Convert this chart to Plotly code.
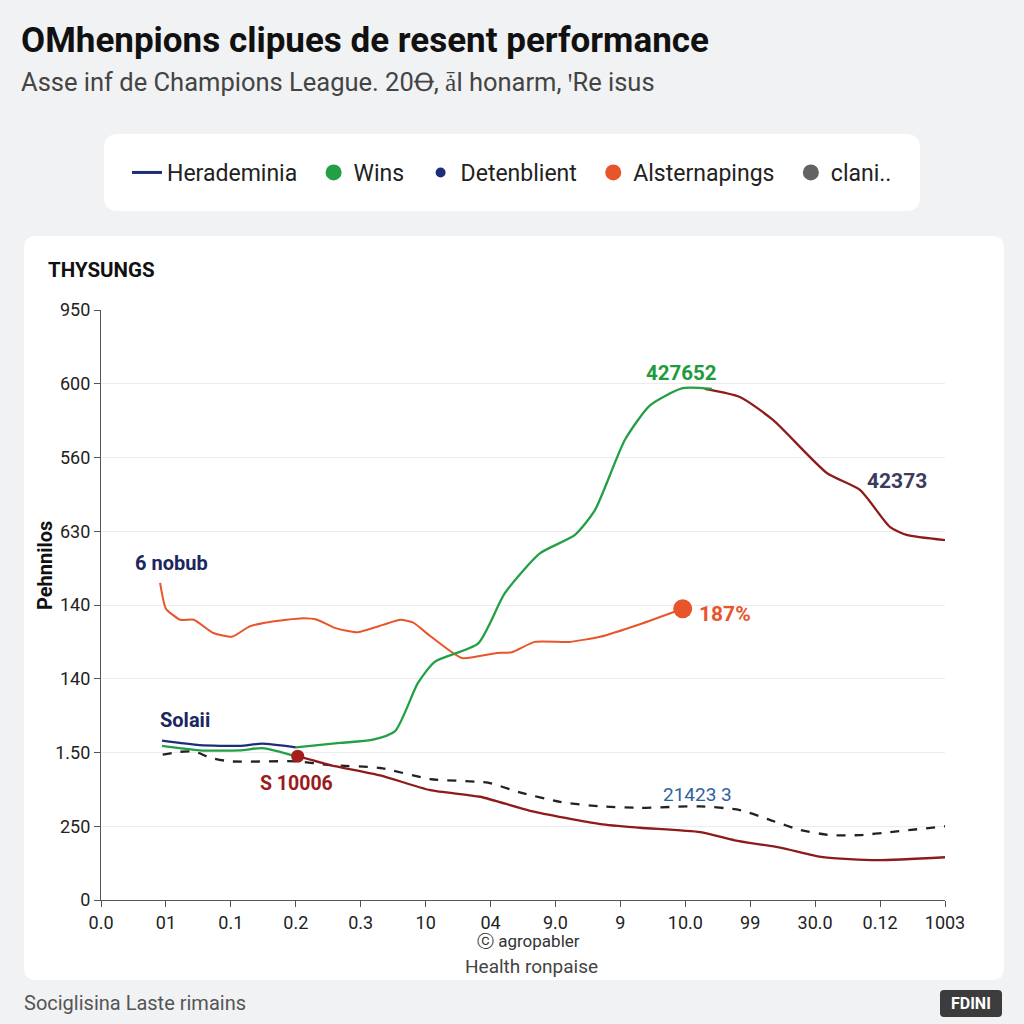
import plotly.graph_objects as go

# ---------------- data ----------------
x_tick_labels = ["0.0", "01", "0.1", "0.2", "0.3", "10", "04", "9.0", "9", "10.0", "99", "30.0", "0.12", "1003"]
y_tick_labels = ["0", "250", "1.50", "140", "140", "630", "560", "600", "950"]

navy_x = [0.94, 1.52, 2.14, 2.48, 3.00]
navy_y = [2.16, 2.10, 2.09, 2.12, 2.07]

green_low_x = [0.94, 1.52, 2.14, 2.48, 2.76, 3.03]
green_low_y = [2.09, 2.03, 2.03, 2.06, 2.01, 1.94]

wins_x = [3.00, 3.68, 4.17, 4.53, 4.88, 5.14, 5.81, 6.22, 6.76, 7.30, 7.61, 8.07, 8.46, 8.96, 9.41]
wins_y = [2.07, 2.13, 2.17, 2.29, 2.94, 3.23, 3.48, 4.16, 4.70, 4.95, 5.29, 6.24, 6.71, 6.94, 6.93]

red_up_x = [9.30, 9.84, 10.35, 11.18, 11.69, 12.15, 12.41, 13.0]
red_up_y = [6.93, 6.82, 6.51, 5.79, 5.56, 5.06, 4.95, 4.88]

red_low_x = [3.03, 3.53, 4.30, 5.07, 5.84, 6.61, 7.69, 8.30, 9.23, 9.76, 10.46, 11.12, 11.95, 13.0]
red_low_y = [1.95, 1.83, 1.69, 1.49, 1.40, 1.21, 1.03, 0.98, 0.92, 0.81, 0.71, 0.58, 0.54, 0.58]

dash_x = [0.95, 1.22, 1.45, 1.68, 1.99, 3.00, 3.53, 4.30, 5.07, 5.96, 6.45, 7.07, 7.69, 8.30, 9.23, 9.84, 10.32, 10.77, 11.23, 11.69, 12.15, 13.0]
dash_y = [1.97, 2.01, 2.01, 1.93, 1.88, 1.88, 1.83, 1.79, 1.64, 1.59, 1.46, 1.33, 1.27, 1.25, 1.27, 1.22, 1.08, 0.95, 0.88, 0.88, 0.92, 1.00]

orange_x = [0.91, 1.00, 1.22, 1.43, 1.73, 2.02, 2.29, 2.60, 3.11, 3.33, 3.60, 3.94, 4.34, 4.61, 4.81, 5.07, 5.56, 6.10, 6.33, 6.68, 7.22, 7.69, 8.30, 8.96]
orange_y = [4.30, 3.95, 3.80, 3.80, 3.62, 3.57, 3.71, 3.77, 3.82, 3.80, 3.69, 3.63, 3.73, 3.80, 3.76, 3.58, 3.28, 3.35, 3.36, 3.50, 3.50, 3.57, 3.74, 3.95]

red_point_x = [3.03]
red_point_y = [1.95]
orange_point_x = [8.96]
orange_point_y = [3.95]

legend_names = ["Herademinia", "Wins", "Detenblient", "Alsternapings", "clani.."]

# ---------------- styling ----------------
NAVY = "#1e2d78"
GREEN = "#23a046"
ORANGE = "#e8552a"
DRED = "#8e1b1b"
BG = "#f1f2f4"
FONT = "Roboto"
PAD = "\u00a0\u00a0"

# plot area in pixels
L, R, T, B = 101, 945, 310, 900
W_, H_ = R - L, B - T


def px(xp):
    return (xp - L) / W_


def py(yp):
    return (B - yp) / H_


def rrect(x0, y0, x1, y1, r):
    rx, ry = r / W_, r / H_
    X0, X1 = px(x0), px(x1)
    Y0, Y1 = py(y0), py(y1)  # Y0 is top (higher value)
    return (f"M {X0+rx},{Y0} L {X1-rx},{Y0} Q {X1},{Y0} {X1},{Y0-ry} "
            f"L {X1},{Y1+ry} Q {X1},{Y1} {X1-rx},{Y1} L {X0+rx},{Y1} "
            f"Q {X0},{Y1} {X0},{Y1+ry} L {X0},{Y0-ry} Q {X0},{Y0} {X0+rx},{Y0} Z")


fig = go.Figure()

line_kw = dict(mode="lines", showlegend=False, hoverinfo="skip")
fig.add_trace(go.Scatter(x=dash_x, y=dash_y, line=dict(color="#222222", width=2.3, dash="dash", shape="spline", smoothing=0.6), **line_kw))
fig.add_trace(go.Scatter(x=orange_x, y=orange_y, line=dict(color=ORANGE, width=2, shape="spline", smoothing=0.5), **line_kw))
fig.add_trace(go.Scatter(x=red_low_x, y=red_low_y, line=dict(color=DRED, width=2.3, shape="spline", smoothing=0.6), **line_kw))
fig.add_trace(go.Scatter(x=red_up_x, y=red_up_y, line=dict(color=DRED, width=2.3, shape="spline", smoothing=0.6), **line_kw))
fig.add_trace(go.Scatter(x=green_low_x, y=green_low_y, line=dict(color=GREEN, width=2.3, shape="spline", smoothing=0.6), **line_kw))
fig.add_trace(go.Scatter(x=wins_x, y=wins_y, line=dict(color=GREEN, width=2.3, shape="spline", smoothing=0.6), **line_kw))
fig.add_trace(go.Scatter(x=navy_x, y=navy_y, line=dict(color=NAVY, width=2.3, shape="spline", smoothing=0.6), **line_kw))
fig.add_trace(go.Scatter(x=red_point_x, y=red_point_y, mode="markers", marker=dict(color="#a51d1d", size=13), showlegend=False, hoverinfo="skip"))
fig.add_trace(go.Scatter(x=orange_point_x, y=orange_point_y, mode="markers", marker=dict(color=ORANGE, size=19), showlegend=False, hoverinfo="skip"))

# legend entries
fig.add_trace(go.Scatter(x=[None], y=[None], mode="lines", line=dict(color=NAVY, width=3), name=legend_names[0] + PAD))
fig.add_trace(go.Scatter(x=[None], y=[None], mode="markers", marker=dict(color=GREEN, size=19), name=legend_names[1] + PAD))
fig.add_trace(go.Scatter(x=[None], y=[None], mode="markers", marker=dict(color=NAVY, size=10), name=legend_names[2] + PAD))
fig.add_trace(go.Scatter(x=[None], y=[None], mode="markers", marker=dict(color=ORANGE, size=19), name=legend_names[3] + PAD))
fig.add_trace(go.Scatter(x=[None], y=[None], mode="markers", marker=dict(color="#636363", size=19), name=legend_names[4]))

shapes = [
    dict(type="path", xref="paper", yref="paper", path=rrect(24, 236, 1004, 980, 12),
         fillcolor="white", line=dict(width=0), layer="below"),
    dict(type="path", xref="paper", yref="paper", path=rrect(104, 134, 920, 211, 14),
         fillcolor="white", line=dict(width=0), layer="below"),
    dict(type="path", xref="paper", yref="paper", path=rrect(940, 990, 1002, 1017, 4),
         fillcolor="#3c3c3c", line=dict(width=0), layer="above"),
]


def ann(text, xp, yp, size, color, bold=False, xanchor="center", angle=0):
    return dict(text=f"<b>{text}</b>" if bold else text, x=px(xp), y=py(yp), xref="paper", yref="paper",
                showarrow=False, xanchor=xanchor, yanchor="middle", textangle=angle,
                font=dict(family=FONT, size=size, color=color))


annotations = [
    ann("OMhenpions clipues de resent performance", 19, 40, 35, "#111111", bold=True, xanchor="left"),
    ann("Asse inf de Champions League. 20Ꝋ, ǡl honarm, ꞌRe isus", 19, 82, 25.5, "#444444", xanchor="left"),
    ann("THYSUNGS", 46, 270, 20.5, "#111111", bold=True, xanchor="left"),
    ann("Pehnnilos", 45, 565, 20, "#111111", bold=True, angle=-90),
    ann("427652", 681, 373, 20.5, "#1f9a3e", bold=True),
    ann("42373", 897, 481, 21, "#3b3b5e", bold=True),
    ann("6 nobub", 171, 563, 20, "#1b2660", bold=True),
    ann("187%", 725, 614, 21, ORANGE, bold=True),
    ann("Solaii", 185, 720, 20, "#1b2660", bold=True),
    ann("S 10006", 296, 783, 19.5, "#9b1c1c", bold=True),
    ann("21423 3", 697, 794, 19, "#2f5f9e"),
    ann("ⓒ agropabler", 528, 941, 17, "#333333"),
    ann("Health ronpaise", 531, 966, 19, "#444444"),
    ann("Sociglisina Laste rimains", 22, 1003, 20, "#555555", xanchor="left"),
    ann("FDINI", 971, 1003, 16, "white", bold=True),
]

fig.update_layout(
    width=1024, height=1024,
    margin=dict(l=L, r=1024 - R, t=T, b=1024 - B, autoexpand=False),
    paper_bgcolor=BG, plot_bgcolor="rgba(0,0,0,0)",
    font=dict(family=FONT, color="#222222"),
    shapes=shapes, annotations=annotations,
    showlegend=True,
    legend=dict(orientation="h", xref="container", yref="container", x=127 / 1024, y=1 - 151 / 1024,
                xanchor="left", yanchor="top", bgcolor="rgba(0,0,0,0)",
                font=dict(family=FONT, size=23, color="#222222"), itemwidth=30, tracegroupgap=0),
    xaxis=dict(range=[0, 13], tickvals=list(range(len(x_tick_labels))), ticktext=x_tick_labels,
               showgrid=False, zeroline=False, showline=True, linecolor="#555555", linewidth=1.2,
               ticks="outside", ticklen=6, tickcolor="#555555", tickfont=dict(size=18, color="#222222"),
               fixedrange=True),
    yaxis=dict(range=[0, 8], tickvals=list(range(len(y_tick_labels))), ticktext=y_tick_labels,
               showgrid=True, gridcolor="#ececec", gridwidth=1, zeroline=False, showline=True,
               linecolor="#555555", linewidth=1.2, ticks="outside", ticklen=6, tickcolor="#555555",
               tickfont=dict(size=18, color="#222222"), fixedrange=True),
)

fig.write_html("out.html", config={"displayModeBar": False},
               post_script="document.body.style.margin='0px';document.body.style.background='%s';" % BG)
